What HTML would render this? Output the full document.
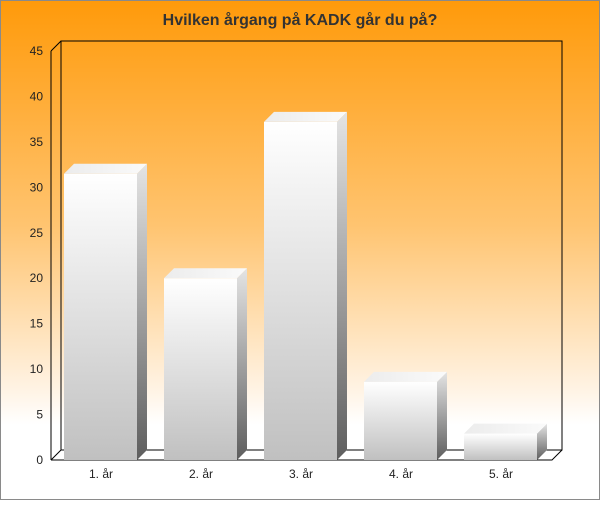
<!DOCTYPE html>
<html><head><meta charset="utf-8"><style>
html,body{margin:0;padding:0}
body{width:600px;height:500px;overflow:hidden;font-family:"Liberation Sans","DejaVu Sans",sans-serif}
</style></head><body>
<svg id="chart" width="600" height="500" xmlns="http://www.w3.org/2000/svg">
<defs>
<linearGradient id="bg" x1="0" y1="0" x2="0" y2="1">
<stop offset="0" stop-color="#ff9a0a"/><stop offset="0.45" stop-color="#ffc470"/><stop offset="0.78" stop-color="#fff3e4"/><stop offset="0.85" stop-color="#ffffff"/>
</linearGradient>
<linearGradient id="front" x1="0" y1="0" x2="0" y2="1"><stop offset="0" stop-color="#ffffff"/><stop offset="1" stop-color="#c0c0c0"/></linearGradient>
<linearGradient id="side" x1="0" y1="0" x2="0" y2="1"><stop offset="0" stop-color="#e4e4e4"/><stop offset="1" stop-color="#5e5e5e"/></linearGradient>
<linearGradient id="topf" x1="0" y1="0" x2="1" y2="0"><stop offset="0" stop-color="#ececec"/><stop offset="1" stop-color="#fafafa"/></linearGradient>
</defs>
<rect x="0.5" y="0.5" width="599" height="499" fill="url(#bg)" stroke="#8a8a8a"/>
<text x="300" y="25" text-anchor="middle" font-size="16" font-weight="bold" fill="#333">Hvilken årgang på KADK går du på?</text>
<g id="axes"></g>
<g id="bars"></g>
</svg>
<script>
const categories = ["1. år","2. år","3. år","4. år","5. år"];
const values = [31.5, 20, 37.2, 8.6, 2.9];
const ticks = [0,5,10,15,20,25,30,35,40,45];
const NS="http://www.w3.org/2000/svg";
const x0=51, yBase=460, yTop=51, D=10, maxV=45, cw=100;
const y = v => yBase - v*(yBase-yTop)/maxV;
const xc = i => x0 + i*cw;
function mk(tag, attrs, parent){const e=document.createElementNS(NS,tag);for(const k in attrs)e.setAttribute(k,attrs[k]);parent.appendChild(e);return e;}
const axes=document.getElementById('axes'), bars=document.getElementById('bars');
const xEnd = x0 + categories.length*cw + 1;
// back wall
const wall=mk('path',{d:`M${x0+D},${yBase-D} V${yTop-D} H${xEnd+D} V${yBase-D} Z`,fill:'none',stroke:'#000','stroke-width':1},axes);


const floor=mk('path',{d:`M${x0},${yBase} H${xEnd} L${xEnd+D},${yBase-D} M${x0},${yBase} L${x0+D},${yBase-D} M${x0},${yTop} L${x0+D},${yTop-D}`,fill:'none',stroke:'#000'},axes);


const yAxis=mk('line',{x1:x0,y1:yTop,x2:x0,y2:yBase,stroke:'#000'},axes);


ticks.forEach(t=>{
  const l=mk('text',{x:x0-8,y:y(t)+4,'text-anchor':'end','font-size':12,fill:'#222'},axes);
  l.textContent=t;
  
  
});
categories.forEach((c,i)=>{
  const bx=xc(i)+13, bw=73, ty=y(values[i]);
  const g=mk('g',{},bars);
  
  
  mk('rect',{x:bx,y:ty,width:bw,height:yBase-ty,fill:'url(#front)'},g);
  mk('path',{d:`M${bx+bw},${ty} L${bx+bw+D},${ty-D} V${yBase-D} L${bx+bw},${yBase} Z`,fill:'url(#side)'},g);
  mk('path',{d:`M${bx},${ty} L${bx+D},${ty-D} H${bx+bw+D} L${bx+bw},${ty} Z`,fill:'url(#topf)'},g);
  const l=mk('text',{x:xc(i)+cw/2,y:478,'text-anchor':'middle','font-size':12,fill:'#222'},axes);
  l.textContent=c;
  
  
});
</script>
</body></html>
